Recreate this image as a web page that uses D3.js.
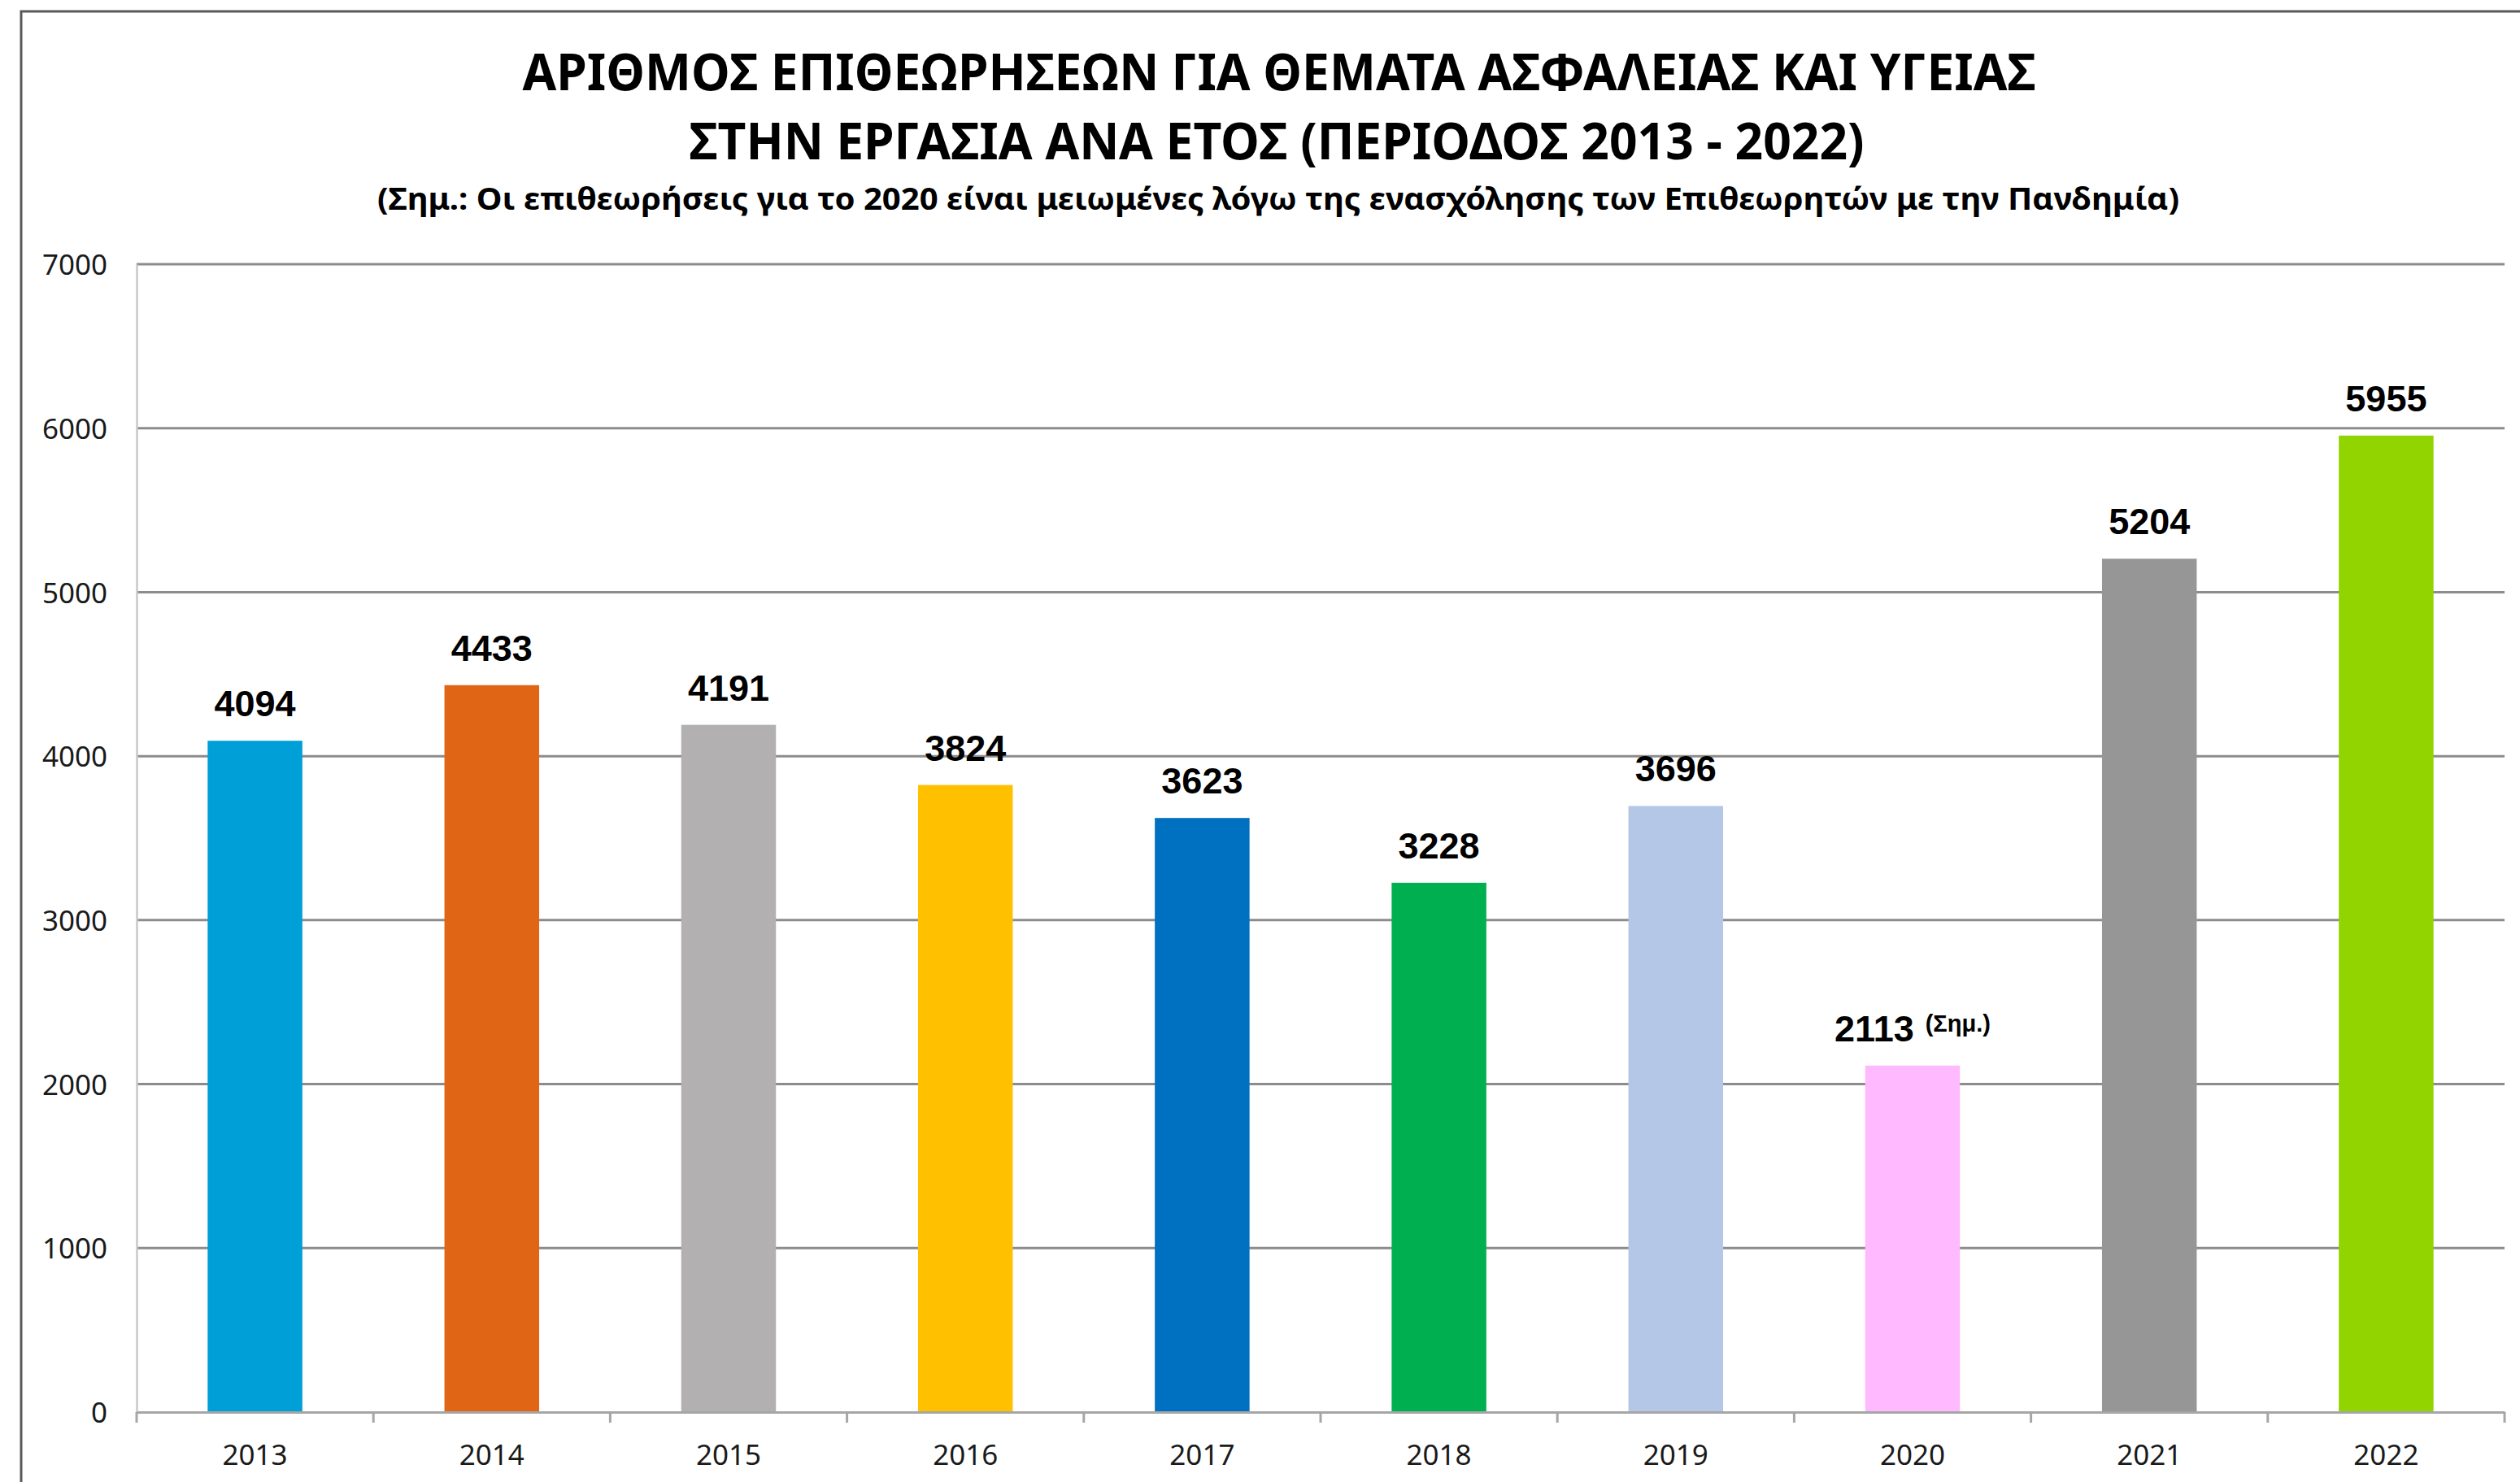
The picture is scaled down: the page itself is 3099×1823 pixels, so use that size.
<!DOCTYPE html>
<html>
    <head>
        <meta charset="utf-8">
        <script src="https://d3js.org/d3.v7.min.js"></script>
        <style>

            body, html {
                margin: 0;
                padding: 0;
                background-color: #FFFFFF;
            }

            .title {
                font-family: "Noto Sans", "Open Sans", sans-serif;
                font-weight: bold;
                fill: #000000;
            }

            .axis text {
                font-family: "Noto Sans", "Open Sans", sans-serif;
                font-size: 35px;
                fill: #1A1A1A;
            }

            .valueLabel {
                font-family: "Liberation Sans", Arial, sans-serif;
                font-weight: bold;
                font-size: 45px;
                fill: #000000;
            }

            .gridline {
                stroke: #8C8C8C;
                stroke-width: 3;
            }

        </style>
    </head>
    <body>
        <div id="chart"></div>
        <script>

            /* DATA */
            const years = ["2013", "2014", "2015", "2016", "2017", "2018", "2019", "2020", "2021", "2022"];
            const inspections = [4094, 4433, 4191, 3824, 3623, 3228, 3696, 2113, 5204, 5955];
            const barColors = ["#009FD7", "#E06616", "#B2B0B0", "#FFC000", "#0070C0",
                               "#00B050", "#B4C7E7", "#FFB9FF", "#969696", "#92D400"];
            const yTicks = [0, 1000, 2000, 3000, 4000, 5000, 6000, 7000];

            // the 2020 value carries a note marker
            const noteYear = "2020";
            const noteText = "(Σημ.)";

            const titleLines = [
                "ΑΡΙΘΜΟΣ ΕΠΙΘΕΩΡΗΣΕΩΝ ΓΙΑ ΘΕΜΑΤΑ ΑΣΦΑΛΕΙΑΣ ΚΑΙ ΥΓΕΙΑΣ",
                "ΣΤΗΝ ΕΡΓΑΣΙΑ ΑΝΑ ΕΤΟΣ (ΠΕΡΙΟΔΟΣ 2013 - 2022)"
            ];
            const subtitle = "(Σημ.: Οι επιθεωρήσεις για το 2020 είναι μειωμένες λόγω της ενασχόλησης των Επιθεωρητών με την Πανδημία)";


            /* CANVAS */
            const width = 3099;
            const height = 1823;
            const margin = {top: 325, left: 168, right: 19, bottom: 86};

            const svg = d3.select("#chart")
                .append("svg")
                .attr("width", width)
                .attr("height", height);

            svg.append("rect")
                .attr("width", width)
                .attr("height", height)
                .attr("fill", "#FFFFFF");

            // outer frame, runs off the right and bottom edges
            svg.append("rect")
                .attr("x", 26)
                .attr("y", 14)
                .attr("width", width)
                .attr("height", height)
                .attr("fill", "none")
                .attr("stroke", "#595959")
                .attr("stroke-width", 3);


            /* TITLES */
            svg.append("text")
                .attr("class", "title")
                .attr("x", 1573)
                .attr("y", 111)
                .attr("text-anchor", "middle")
                .attr("font-size", 62)
                .attr("textLength", 1861)
                .attr("lengthAdjust", "spacingAndGlyphs")
                .text(titleLines[0]);

            svg.append("text")
                .attr("class", "title")
                .attr("x", 1570)
                .attr("y", 196)
                .attr("text-anchor", "middle")
                .attr("font-size", 62)
                .attr("textLength", 1445)
                .attr("lengthAdjust", "spacingAndGlyphs")
                .text(titleLines[1]);

            svg.append("text")
                .attr("class", "title")
                .attr("x", 1572)
                .attr("y", 258)
                .attr("text-anchor", "middle")
                .attr("font-size", 38)
                .attr("textLength", 2216)
                .attr("lengthAdjust", "spacingAndGlyphs")
                .text(subtitle);


            /* SCALES */
            const xSlot = d3.scaleBand()
                .domain(years)
                .range([margin.left, width - margin.right])
                .padding(0);

            const xScale = d3.scaleBand()
                .domain(years)
                .range([margin.left, width - margin.right])
                .paddingInner(0.6)
                .paddingOuter(0.3);

            const yScale = d3.scaleLinear()
                .domain([0, 7000])
                .range([height - margin.bottom, margin.top]);


            /* GRIDLINES */
            svg.append("g")
                .selectAll("line")
                .data(yTicks.filter(d => d > 0))
                .enter()
                .append("line")
                    .attr("class", "gridline")
                    .attr("x1", margin.left)
                    .attr("x2", width - margin.right)
                    .attr("y1", d => yScale(d))
                    .attr("y2", d => yScale(d));


            /* Y AXIS */
            const yAxis = svg.append("g")
                .attr("class", "axis")
                .attr("transform", `translate(${margin.left},0)`)
                .call(d3.axisLeft(yScale)
                    .tickValues(yTicks)
                    .tickFormat(d3.format("d"))
                    .tickSize(0)
                    .tickPadding(36));

            yAxis.select(".domain")
                .attr("stroke", "#C8C8C8")
                .attr("stroke-width", 2.5);
            yAxis.selectAll("text").attr("dy", "0.36em");


            /* BARS */
            svg.append("g")
                .selectAll("rect")
                .data(years)
                .enter()
                .append("rect")
                    .attr("x", d => xScale(d))
                    .attr("y", (d, i) => yScale(inspections[i]))
                    .attr("width", xScale.bandwidth())
                    .attr("height", (d, i) => yScale(0) - yScale(inspections[i]))
                    .attr("fill", (d, i) => barColors[i]);


            /* X AXIS */
            const xAxis = svg.append("g")
                .attr("class", "axis")
                .attr("transform", `translate(0,${height - margin.bottom})`)
                .call(d3.axisBottom(xScale).tickSize(0));

            xAxis.select(".domain")
                .attr("stroke", "#A6A6A6")
                .attr("stroke-width", 3);
            xAxis.selectAll("text")
                .attr("y", 65)
                .attr("dy", null);

            // tick marks sit between the categories
            const boundaries = years.map(d => xSlot(d)).concat([width - margin.right]);
            xAxis.append("g")
                .selectAll("line")
                .data(boundaries)
                .enter()
                .append("line")
                    .attr("x1", d => d)
                    .attr("x2", d => d)
                    .attr("y1", 0)
                    .attr("y2", 13)
                    .attr("stroke", "#A6A6A6")
                    .attr("stroke-width", 3);


            /* VALUE LABELS */
            const labels = svg.append("g")
                .selectAll("text")
                .data(years)
                .enter()
                .append("text")
                    .attr("class", "valueLabel")
                    .attr("x", d => xScale(d) + xScale.bandwidth() / 2)
                    .attr("y", (d, i) => yScale(inspections[i]) - 30)
                    .attr("text-anchor", "middle");

            labels.append("tspan")
                .text((d, i) => inspections[i]);

            labels.filter(d => d === noteYear)
                .append("tspan")
                    .attr("font-size", 29)
                    .attr("dx", 14)
                    .attr("dy", -12)
                    .text(noteText);

        </script>
    </body>
</html>
